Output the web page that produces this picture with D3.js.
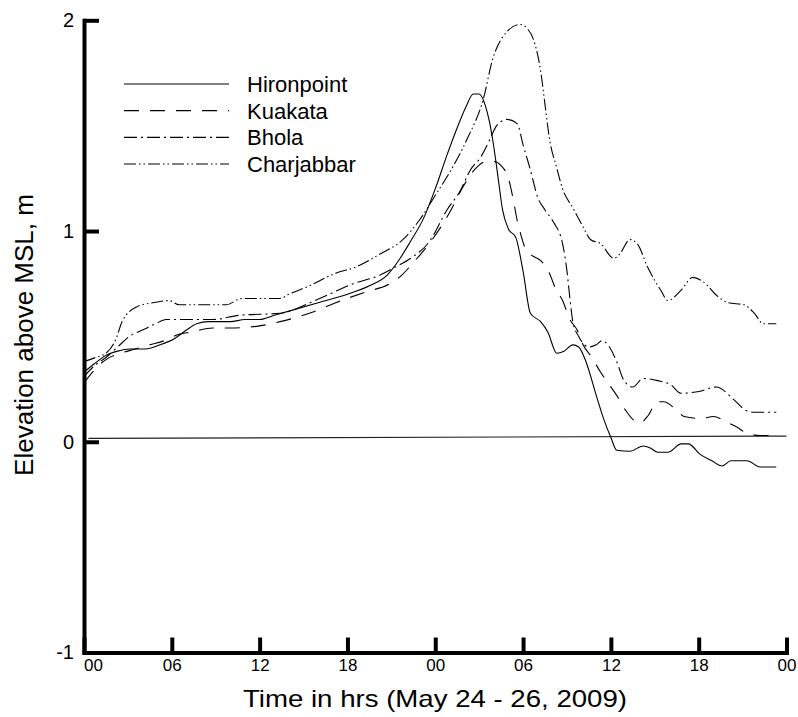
<!DOCTYPE html>
<html>
<head>
<meta charset="utf-8">
<script src="https://cdn.jsdelivr.net/npm/d3@7"></script>
<style>
  html, body { margin: 0; padding: 0; background: #fff; }
  svg { display: block; font-family: "Liberation Sans", Arial, sans-serif; }
</style>
</head>
<body>
<svg id="chart" width="798" height="717"></svg>
<script>
// ---- data (hours from 00 on May 24, elevation in m) ----
const xTickValues = [0, 6, 12, 18, 24, 30, 36, 42, 48];
const xTickLabels = ["00", "06", "12", "18", "00", "06", "12", "18", "00"];
const yTickValues = [-1, 0, 1, 2];
const seriesNames = ["Hironpoint", "Kuakata", "Bhola", "Charjabbar"];

const hironpoint = [[0,0.33],[0.7,0.37],[1.5,0.41],[2.3,0.43],[3.1,0.44],[4.2,0.44],[5.2,0.46],[6.2,0.49],[7.0,0.53],[7.7,0.56],[8.5,0.57],[10,0.57],[11,0.58],[12,0.58],[13,0.60],[14,0.62],[16,0.66],[18,0.70],[19.5,0.74],[20.7,0.79],[21.5,0.86],[22.3,0.95],[23.2,1.06],[24.0,1.20],[24.8,1.36],[25.5,1.49],[26.1,1.59],[26.6,1.65],[27.0,1.65],[27.4,1.60],[27.7,1.52],[28.0,1.40],[28.3,1.25],[28.6,1.10],[29.0,1.01],[29.5,0.97],[30.0,0.81],[30.5,0.61],[31.2,0.57],[31.7,0.52],[32.3,0.42],[32.8,0.43],[33.4,0.46],[33.8,0.45],[34.3,0.38],[35.0,0.22],[35.5,0.11],[36.0,0.02],[36.4,-0.04],[37.3,-0.045],[38.2,-0.02],[38.7,-0.03],[39.2,-0.05],[39.9,-0.05],[40.8,-0.01],[41.3,-0.01],[42.1,-0.06],[42.9,-0.09],[43.6,-0.115],[44.2,-0.09],[45.3,-0.09],[46.2,-0.12],[47.3,-0.12]];

const kuakata = [[0,0.28],[0.7,0.34],[1.5,0.39],[2.5,0.42],[3.5,0.44],[4.5,0.46],[5.5,0.48],[6.5,0.51],[7.3,0.52],[8.8,0.54],[10,0.54],[12,0.55],[13.4,0.57],[15.4,0.61],[17.2,0.66],[19.2,0.71],[20.9,0.75],[21.7,0.79],[22.5,0.85],[23.8,0.96],[25.0,1.09],[25.9,1.21],[26.8,1.30],[27.5,1.33],[28.0,1.33],[28.5,1.31],[29.0,1.25],[29.3,1.16],[29.6,1.05],[29.9,0.97],[30.2,0.91],[30.7,0.88],[31.2,0.86],[31.8,0.80],[32.2,0.73],[32.7,0.67],[33.2,0.58],[33.7,0.53],[34.1,0.46],[34.7,0.40],[35.3,0.33],[35.9,0.27],[36.4,0.22],[37.0,0.15],[37.6,0.10],[38.0,0.09],[38.5,0.12],[39.2,0.19],[39.6,0.19],[40.5,0.15],[41.0,0.12],[42.2,0.11],[43.0,0.12],[44.0,0.09],[44.6,0.07],[45.3,0.04],[46.2,0.03],[47.3,0.03]];

const bhola = [[0,0.31],[0.7,0.36],[1.5,0.40],[2.3,0.45],[3.1,0.50],[4.0,0.53],[4.9,0.56],[5.6,0.58],[7,0.58],[8.8,0.58],[10.6,0.60],[13.4,0.61],[16.1,0.68],[18.4,0.75],[20.2,0.79],[21.3,0.83],[22.3,0.87],[23.6,0.95],[24.8,1.10],[25.7,1.19],[26.4,1.29],[27.1,1.35],[27.7,1.43],[28.2,1.50],[28.9,1.53],[29.6,1.51],[30.0,1.41],[30.5,1.29],[31.0,1.16],[31.5,1.10],[32.1,1.04],[32.7,0.94],[33.0,0.81],[33.2,0.68],[33.4,0.57],[33.8,0.50],[34.5,0.45],[35.0,0.46],[35.4,0.48],[35.8,0.46],[36.4,0.38],[36.9,0.29],[37.5,0.26],[38.2,0.30],[39.2,0.29],[40.1,0.27],[40.8,0.23],[42.1,0.24],[43.2,0.26],[44.4,0.20],[45.2,0.15],[45.8,0.14],[47.3,0.14]];

const charjabbar = [[0,0.38],[0.8,0.40],[1.5,0.42],[2.2,0.49],[2.6,0.57],[3.6,0.64],[4.7,0.66],[5.8,0.67],[6.5,0.65],[8,0.65],[9.7,0.65],[10.8,0.68],[13.4,0.68],[14.0,0.70],[15.4,0.74],[17.2,0.80],[18.6,0.83],[20.2,0.89],[21.8,0.96],[22.9,1.05],[24.1,1.18],[25.0,1.28],[26.2,1.44],[27.3,1.63],[27.9,1.81],[28.6,1.92],[29.8,1.98],[30.3,1.96],[30.8,1.89],[31.2,1.76],[31.5,1.60],[31.8,1.44],[32.3,1.30],[32.7,1.20],[33.4,1.11],[34.1,1.02],[34.6,0.96],[35.3,0.94],[36.2,0.87],[36.6,0.89],[37.3,0.96],[37.8,0.94],[38.5,0.83],[39.4,0.72],[39.9,0.67],[40.8,0.72],[41.6,0.78],[42.3,0.76],[43.3,0.69],[44.0,0.66],[45.1,0.65],[45.8,0.61],[46.4,0.56],[47.3,0.56]];

const mslLine = [[0.3,0.016],[48,0.027]];

// ---- layout ----
const svg = d3.select("#chart");
const x = d3.scaleLinear().domain([0, 48]).range([84, 786.5]);
const y = d3.scaleLinear().domain([-1, 2]).range([652.5, 20.3]);

const styles = [
  { name: seriesNames[0], data: hironpoint, dash: null },
  { name: seriesNames[1], data: kuakata, dash: "15,11" },
  { name: seriesNames[2], data: bhola, dash: "13,4,2,4" },
  { name: seriesNames[3], data: charjabbar, dash: "12,3,1.5,3,1.5,3" }
];

const line = d3.line().x(d => x(d[0])).y(d => y(d[1])).curve(d3.curveMonotoneX);

// MSL reference line
svg.append("path").datum(mslLine)
  .attr("d", d3.line().x(d => x(d[0])).y(d => y(d[1])))
  .attr("fill", "none").attr("stroke", "#222").attr("stroke-width", 1.2);

// series
styles.forEach(s => {
  svg.append("path").datum(s.data)
    .attr("d", line)
    .attr("fill", "none")
    .attr("stroke", "#000")
    .attr("stroke-width", 1.1)
    .attr("stroke-dasharray", s.dash);
});

// axes
const yAxis = d3.axisLeft(y).tickValues(yTickValues).tickSize(-15).tickSizeOuter(0).tickPadding(10)
  .tickFormat(d3.format("d"));
const yg = svg.append("g").attr("transform", `translate(${x(0)},0)`).call(yAxis);
yg.select(".domain").attr("stroke-width", 4).attr("stroke-linecap", "square");
yg.selectAll(".tick line").attr("stroke-width", 4);
yg.selectAll(".tick text").attr("font-size", 20).attr("font-family", "Liberation Sans, Arial, sans-serif").attr("fill", "#000")
  .text(d => d < 0 ? "-" + Math.abs(d) : String(d));

const xAxis = d3.axisBottom(x).tickValues(xTickValues).tickSize(-15).tickSizeOuter(0).tickPadding(6)
  .tickFormat((d, i) => xTickLabels[i]);
const xg = svg.append("g").attr("transform", `translate(0,${y(-1)})`).call(xAxis);
xg.select(".domain").attr("stroke-width", 4).attr("stroke-linecap", "square");
xg.selectAll(".tick line").attr("stroke-width", 4);
xg.selectAll(".tick text").attr("font-size", 17).attr("font-family", "Liberation Sans, Arial, sans-serif").attr("fill", "#000")
  .attr("dx", (d, i) => i === 0 ? 9 : 0);

// axis titles
svg.append("text")
  .attr("x", 243).attr("y", 706.5)
  .attr("font-size", 24)
  .attr("textLength", 384).attr("lengthAdjust", "spacingAndGlyphs")
  .text("Time in hrs (May 24 - 26, 2009)");

svg.append("text")
  .attr("transform", "translate(33,335) rotate(-90)")
  .attr("text-anchor", "middle")
  .attr("font-size", 26)
  .text("Elevation above MSL, m");

// legend
const legendY = d3.scalePoint().domain(seriesNames).range([84, 164]);
const lg = svg.append("g");
styles.forEach(s => {
  lg.append("line")
    .attr("x1", 124).attr("x2", 229)
    .attr("y1", legendY(s.name)).attr("y2", legendY(s.name))
    .attr("stroke", "#000").attr("stroke-width", 1.1)
    .attr("stroke-dasharray", s.dash);
  lg.append("text")
    .attr("x", 247).attr("y", legendY(s.name))
    .attr("dy", "0.36em")
    .attr("font-size", 22)
    .text(s.name);
});
</script>
</body>
</html>
